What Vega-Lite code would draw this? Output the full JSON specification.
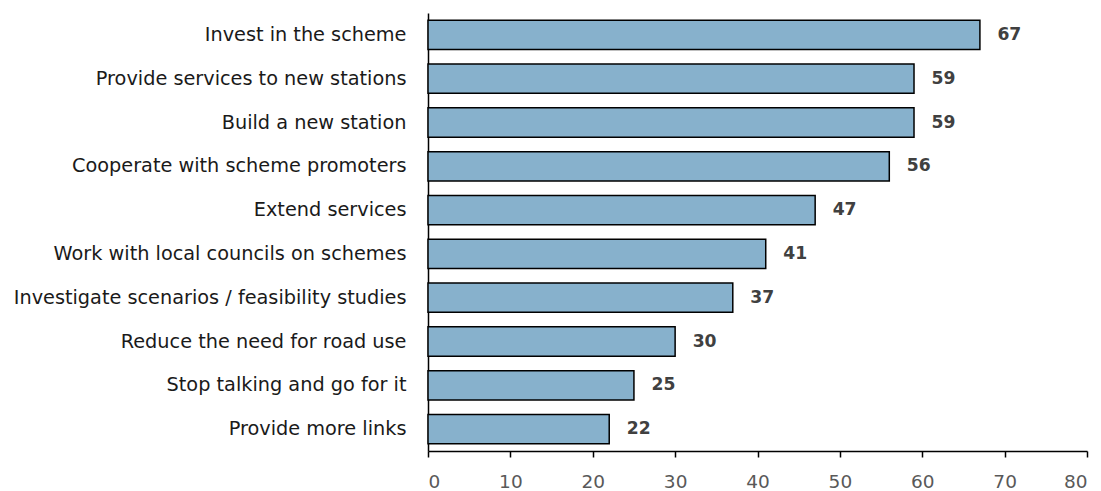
{
  "$schema": "https://vega.github.io/schema/vega-lite/v6.json",
  "autosize": "none",
  "width": 659,
  "height": 438,
  "padding": {"left": 428, "top": 13, "right": 14, "bottom": 40},
  "background": "white",
  "config": {"view": {"stroke": null}, "font": "DejaVu Sans"},
  "data": {"values": [
    {"category": "Invest in the scheme", "value": 67},
    {"category": "Provide services to new stations", "value": 59},
    {"category": "Build a new station", "value": 59},
    {"category": "Cooperate with scheme promoters", "value": 56},
    {"category": "Extend services", "value": 47},
    {"category": "Work with local councils on schemes", "value": 41},
    {"category": "Investigate scenarios / feasibility studies", "value": 37},
    {"category": "Reduce the need for road use", "value": 30},
    {"category": "Stop talking and go for it", "value": 25},
    {"category": "Provide more links", "value": 22}
  ]},
  "encoding": {
    "y": {"field": "category", "type": "nominal", "sort": null,
      "scale": {"paddingInner": 0.33, "paddingOuter": 0.165},
      "axis": {"title": null, "ticks": false, "domainColor": "black", "domainWidth": 1.5,
        "labelFontSize": 19.3, "labelColor": "#1a1a1a", "labelPadding": 22, "labelLimit": 428, "labelFont": "DejaVu Sans"}},
    "x": {"field": "value", "type": "quantitative",
      "scale": {"domain": [0, 80], "nice": false},
      "axis": {"title": null, "values": [0,10,20,30,40,50,60,70,80], "grid": false,
        "domainColor": "black", "domainWidth": 1.5, "tickColor": "black", "tickWidth": 1.5, "tickSize": 6,
        "labelFontSize": 18.5, "labelColor": "#595959", "labelPadding": 15, "labelFont": "DejaVu Sans"}}
  },
  "layer": [
    {"mark": {"type": "bar", "fill": "#87B1CC", "stroke": "black", "strokeWidth": 1.5}},
    {"mark": {"type": "text", "align": "left", "dx": 17.5, "fontWeight": "bold", "fontSize": 17.2, "color": "#404040", "font": "DejaVu Sans"},
     "encoding": {"text": {"field": "value", "type": "quantitative"}}}
  ]
}
